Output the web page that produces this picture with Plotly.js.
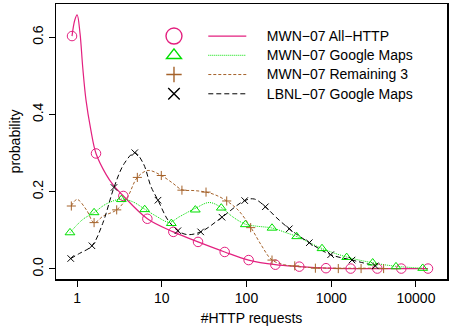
<!DOCTYPE html>
<html>
<head>
<meta charset="utf-8">
<script src="https://cdn.plot.ly/plotly-3.0.1.min.js"></script>
<style>html,body{margin:0;padding:0;background:#fff;}</style>
</head>
<body>
<div id="chart" style="width:450px;height:332px;"></div>
<script>
// ---- data ----
const SERIES_NAMES = ['MWN\u221207 All\u2212HTTP', 'MWN\u221207 Google Maps', 'MWN\u221207 Remaining 3', 'LBNL\u221207 Google Maps'];
const X_TICKS = [1, 10, 100, 1000, 10000];
const X_TICK_TEXT = ['1', '10', '100', '1000', '10000'];
const Y_TICKS = [0, 0.2, 0.4, 0.6];
const Y_TICK_TEXT = ['0.0', '0.2', '0.4', '0.6'];

// MWN-07 All-HTTP
const allCurveX = [0.873, 0.94, 1.003, 1.085, 1.167, 1.277, 1.45, 1.675, 2.2, 2.68, 3.52, 6.76, 13.7, 26.8, 55.3, 106, 219, 420, 867, 1696, 3497, 6712, 13860];
const allCurveY = [0.603, 0.644, 0.658, 0.61, 0.523, 0.437, 0.362, 0.299, 0.245, 0.217, 0.189, 0.130, 0.096, 0.070, 0.044, 0.023, 0.011, 0.006, 0.002, 0.001, 0.001, 0.001, 0.001];
const allPtsX = [0.873, 1.675, 3.52, 6.76, 13.7, 26.8, 55.3, 106, 219, 420, 867, 1696, 3497, 6712, 13860];
const allPtsY = [0.603, 0.299, 0.189, 0.130, 0.096, 0.070, 0.044, 0.023, 0.011, 0.006, 0.002, 0.001, 0.001, 0.001, 0.001];

// MWN-07 Google Maps
const gmCurveX = [0.826, 1.167, 1.59, 2.2, 3.33, 4.54, 6.29, 8.55, 12.3, 16.1, 24.9, 36.4, 50.4, 68.7, 96.8, 129, 200, 292, 391, 778, 1521, 3083, 5806, 12000];
const gmCurveY = [0.094, 0.128, 0.146, 0.168, 0.181, 0.174, 0.155, 0.137, 0.121, 0.135, 0.157, 0.172, 0.159, 0.135, 0.116, 0.111, 0.106, 0.094, 0.084, 0.053, 0.031, 0.016, 0.007, 0.002];
const gmPtsX = [0.826, 1.59, 3.33, 6.29, 12.97, 24.9, 50.4, 96.8, 200, 391, 778, 1521, 3083, 5806, 12000];
const gmPtsY = [0.094, 0.146, 0.180, 0.154, 0.118, 0.153, 0.158, 0.115, 0.106, 0.084, 0.053, 0.030, 0.016, 0.006, 0.002];

// MWN-07 Remaining 3
const remCurveX = [0.857, 1.0, 1.3, 1.59, 2.04, 2.94, 3.96, 5.15, 6.9, 9.88, 13.5, 17.3, 24, 33.3, 43.7, 58.4, 80, 112, 151, 200, 280, 371, 650, 1211, 2250, 4150];
const remCurveY = [0.163, 0.180, 0.152, 0.120, 0.137, 0.153, 0.187, 0.237, 0.255, 0.242, 0.222, 0.205, 0.203, 0.199, 0.191, 0.176, 0.152, 0.108, 0.060, 0.023, 0.011, 0.007, 0.003, 0.002, 0.002, 0.002];
const remPtsX = [0.857, 1.59, 2.94, 5.15, 9.88, 17.3, 33.3, 58.4, 112, 200, 371, 650, 1211, 2250, 4150];
const remPtsY = [0.163, 0.120, 0.153, 0.237, 0.242, 0.204, 0.199, 0.176, 0.107, 0.023, 0.008, 0.002, 0.001, 0.001, 0.001];

// LBNL-07 Google Maps
const lbCurveX = [0.843, 1.065, 1.5, 2.01, 2.73, 3.61, 4.8, 6.06, 7.47, 9.03, 11.8, 15.5, 20, 28.8, 51.4, 95.2, 124, 167, 223, 320, 551, 985, 1758, 3310];
const lbCurveY = [0.027, 0.040, 0.060, 0.118, 0.211, 0.273, 0.301, 0.273, 0.213, 0.178, 0.127, 0.099, 0.089, 0.096, 0.134, 0.177, 0.181, 0.161, 0.134, 0.104, 0.068, 0.037, 0.023, 0.008];
const lbPtsX = [0.843, 1.5, 2.73, 4.8, 9.03, 15.5, 28.8, 51.4, 95.2, 167, 320, 551, 985, 1758, 3310];
const lbPtsY = [0.027, 0.060, 0.211, 0.301, 0.178, 0.099, 0.096, 0.134, 0.177, 0.161, 0.104, 0.068, 0.037, 0.023, 0.008];

// ---- styles ----
const COLORS = ['#e3207f', '#00e000', '#a5622a', '#000000'];
const DASHES = ['solid', '1px,1px', '3px,2px', '5px,3px'];
const LINE_W = [1.2, 1, 1, 1];
const SYMBOLS = ['circle-open', 'triangle-up-open', 'cross-thin-open', 'x-thin-open'];
const SIZES = [9.5, 8.5, 6.5, 6.5];
const LEG_SIZES = [16, 13, 11, 11.5];

const curves = [[allCurveX, allCurveY], [gmCurveX, gmCurveY], [remCurveX, remCurveY], [lbCurveX, lbCurveY]];
const points = [[allPtsX, allPtsY], [gmPtsX, gmPtsY], [remPtsX, remPtsY], [lbPtsX, lbPtsY]];

const traces = [];
curves.forEach((c, i) => {
  traces.push({
    x: c[0], y: c[1], type: 'scatter', mode: 'lines', showlegend: false, hoverinfo: 'skip',
    line: {color: COLORS[i], width: LINE_W[i], dash: DASHES[i], shape: 'spline', smoothing: 1}
  });
});
points.forEach((p, i) => {
  traces.push({
    x: p[0], y: p[1], type: 'scatter', mode: 'markers', showlegend: false,
    marker: {symbol: SYMBOLS[i], size: SIZES[i], color: COLORS[i], line: {color: COLORS[i], width: 1}}
  });
});
// legend: symbol column
SERIES_NAMES.forEach((n, i) => {
  traces.push({
    x: [null], y: [null], type: 'scatter', mode: 'markers', legend: 'legend', name: '\u00a0',
    marker: {symbol: SYMBOLS[i], size: LEG_SIZES[i], color: COLORS[i], line: {color: COLORS[i], width: 1.4}}
  });
});
// legend: line + text column
SERIES_NAMES.forEach((n, i) => {
  traces.push({
    x: [null], y: [null], type: 'scatter', mode: 'lines', legend: 'legend2',
    name: '<span style="font-size:14px">\u00a0\u00a0\u00a0\u00a0' + n + '</span>',
    line: {color: COLORS[i], width: LINE_W[i], dash: DASHES[i]}
  });
});

const FONT = 'Liberation Sans, Arial, Helvetica, sans-serif';
const layout = {
  width: 450, height: 332,
  margin: {l: 56, r: 3, t: 4, b: 53},
  paper_bgcolor: '#fff', plot_bgcolor: '#fff',
  font: {family: FONT, size: 14, color: '#000'},
  xaxis: {
    type: 'log', range: [-0.248, 4.366],
    tickmode: 'array', tickvals: X_TICKS, ticktext: X_TICK_TEXT,
    ticks: 'outside', ticklen: 6, tickwidth: 1, tickcolor: '#000',
    showline: true, linecolor: '#000', linewidth: 1.5, mirror: true,
    showgrid: false, zeroline: false,
    tickfont: {size: 14},
    title: {text: '#HTTP requests', font: {size: 14}, standoff: 8}
  },
  yaxis: {
    range: [-0.026, 0.686],
    tickmode: 'array', tickvals: Y_TICKS, ticktext: Y_TICK_TEXT, tickangle: -90,
    ticks: 'outside', ticklen: 6, tickwidth: 1, tickcolor: '#000',
    showline: true, linecolor: '#000', linewidth: 1.5, mirror: true,
    showgrid: false, zeroline: false,
    tickfont: {size: 14},
    title: {text: 'probability', font: {size: 14}, standoff: 6}
  },
  legend: {
    x: 0.2506, y: 0.9367, xanchor: 'left', yanchor: 'top',
    bgcolor: 'rgba(0,0,0,0)', borderwidth: 0, itemwidth: 30,
    font: {size: 12.5, family: FONT}, tracegroupgap: 0
  },
  legend2: {
    x: 0.3767, y: 0.9367, xanchor: 'left', yanchor: 'top',
    bgcolor: 'rgba(0,0,0,0)', borderwidth: 0, itemwidth: 38,
    font: {size: 12.5, family: FONT, color: '#000'}, tracegroupgap: 0
  }
};

Plotly.newPlot('chart', traces, layout, {staticPlot: true, displayModeBar: false});
</script>
</body>
</html>
